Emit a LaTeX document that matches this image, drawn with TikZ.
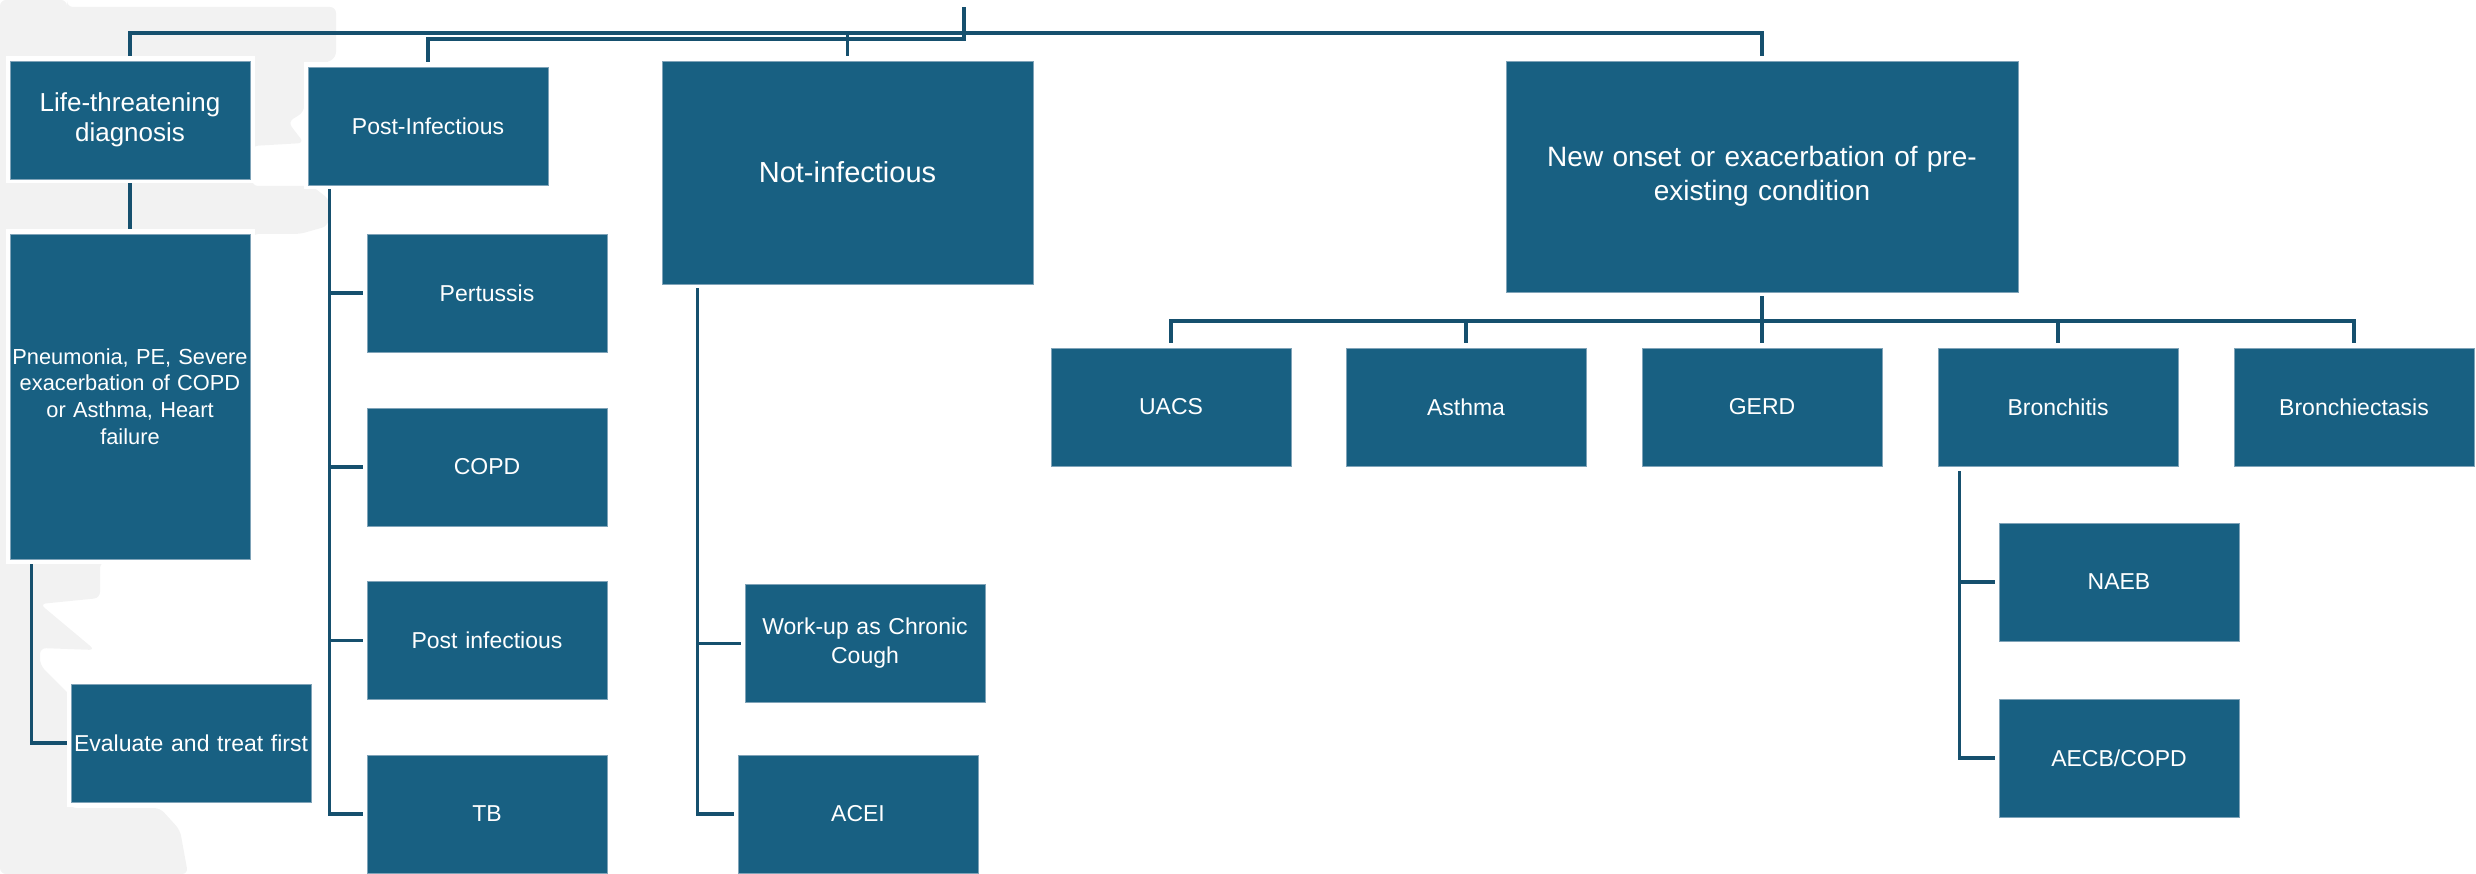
\documentclass[tikz,border=0pt]{standalone}
\usepackage{fontspec}
\setmainfont{Liberation Sans}
\usetikzlibrary{backgrounds}
\definecolor{boxblue}{HTML}{186082}
\definecolor{boxedge}{HTML}{7FA3B8}
\definecolor{linkblue}{HTML}{16506E}
\definecolor{blobgray}{HTML}{F2F2F2}
\pgfdeclarelayer{blob}
\pgfsetlayers{blob,background,main}
\tikzset{
  card/.style={rectangle,fill=boxblue,draw=boxedge,line width=0.8pt,
               preaction={draw=white,line width=9pt},
               text=white,inner sep=0pt,minimum width=240,minimum height=118,
               text width=236,align=center,font=\fontsize{23}{29}\selectfont},
  bigcard/.style={card,font=\fontsize{29}{34}\selectfont},
  link/.style={draw=linkblue,line width=3.5pt},
}

\begin{document}
\begin{tikzpicture}[x=1pt,y=-1pt]
  \useasboundingbox (0,0) rectangle (2476,874);
  \begin{pgfonlayer}{blob}
    \fill[blobgray,rounded corners=6pt] (0,0) -- (67,0) -- (67,7) -- (336,7) -- (336,58) -- (306,72)
      -- (304,112) -- (288,122) -- (304,143) -- (252,146) -- (252,186) -- (312,186) -- (330,200)
      -- (328,226) -- (300,234) -- (252,234) -- (252,562) -- (100,562) -- (100,598) -- (40,604)
      -- (95,650) -- (40,648) -- (40,665) -- (75,700) -- (70,808) -- (160,808) -- (180,830)
      -- (188,874) -- (0,874) -- cycle;
  \end{pgfonlayer}

  \node[card,font=\fontsize{26}{30}\selectfont] (life) at (130,120) {Life-threatening\\diagnosis};
  \node[card,minimum height=325,font=\fontsize{21.8}{26.7}\selectfont] (pneu) at (130,396.5)
    {Pneumonia, PE, Severe\\exacerbation of COPD\\or Asthma, Heart\\failure};
  \node[card] (evalt) at (191,743) {Evaluate and treat first};
  \node[card] (postinf) at (428,126) {Post-Infectious};
  \node[card] (pert) at (487,293) {Pertussis};
  \node[card] (copd) at (487,467) {COPD};
  \node[card] (postinfx) at (487,640.5) {Post infectious};
  \node[card] (tb) at (487,814) {TB};
  \node[bigcard,minimum width=371,minimum height=223] (notinf) at (847.5,172.5) {Not-infectious};
  \node[card] (workup) at (865,643.5) {Work-up as Chronic\\Cough};
  \node[card] (acei) at (858,814) {ACEI};
  \node[bigcard,minimum width=512,minimum height=231,text width=480,font=\fontsize{28}{34}\selectfont] (newon) at (1762,176.5)
    {New onset or exacerbation of pre-\\existing condition};
  \node[card] (uacs) at (1171,407) {UACS};
  \node[card] (asthma) at (1466,407) {Asthma};
  \node[card] (gerd) at (1762,407) {GERD};
  \node[card] (bronchitis) at (2058,407) {Bronchitis};
  \node[card] (bronchiec) at (2354,407) {Bronchiectasis};
  \node[card] (naeb) at (2119,582) {NAEB};
  \node[card] (aecb) at (2119,758) {AECB/COPD};

  \coordinate (root) at (964,7);
  \coordinate (topbar) at (0,33);
  \coordinate (lowbar) at (0,39);
  \coordinate (rightbar) at (0,321);
  \coordinate (lbus) at ([xshift=22]pneu.south west);
  \coordinate (pbus) at ([xshift=22]postinf.south west);
  \coordinate (nbus) at ([xshift=36]notinf.south west);
  \coordinate (bbus) at ([xshift=22]bronchitis.south west);

  \begin{scope}[on background layer]
    \draw[link] (postinf.north) -- (postinf.north |- lowbar) -- (root |- lowbar) -- (root);
    \draw[link] (life.north) -- (life.north |- topbar) -- (newon.north |- topbar) -- (newon.north);
    \draw[link] (notinf.north) -- (notinf.north |- topbar);
    \draw[link] (life.south) -- (pneu.north);
    \draw[link] (lbus) |- (evalt.west);
    \draw[link] (pbus) |- (tb.west);
    \foreach \k in {pert,copd,postinfx}
      \draw[link] (pbus |- \k.west) -- (\k.west);
    \draw[link] (nbus) |- (acei.west);
    \draw[link] (nbus |- workup.west) -- (workup.west);
    \draw[link] (newon.south) -- (newon.south |- rightbar);
    \draw[link] (uacs.north) -- (uacs.north |- rightbar) -- (bronchiec.north |- rightbar) -- (bronchiec.north);
    \foreach \k in {asthma,gerd,bronchitis}
      \draw[link] (\k.north) -- (\k.north |- rightbar);
    \draw[link] (bbus) |- (aecb.west);
    \draw[link] (bbus |- naeb.west) -- (naeb.west);
  \end{scope}
\end{tikzpicture}
\end{document}
